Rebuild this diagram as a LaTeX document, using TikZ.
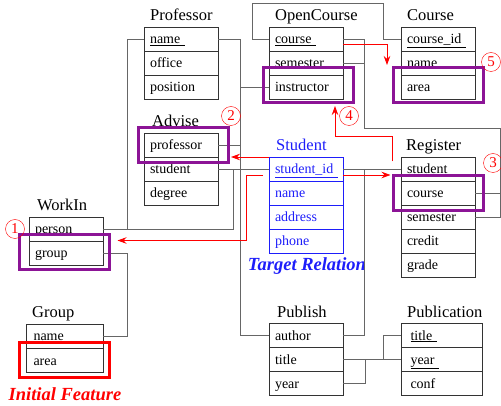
\documentclass[tikz,border=0pt]{standalone}
\usepackage{fontspec}
\setmainfont{Liberation Serif}
\usetikzlibrary{positioning, arrows.meta, calc}

\definecolor{hlpurple}{RGB}{140,20,150}
\definecolor{tblue}{RGB}{30,30,250}

\begin{document}
\begin{tikzpicture}[x=1pt, y=-1pt, >={Stealth[length=9pt, width=6.5pt]},
  attr/.style={draw=black!80, minimum width=74pt, minimum height=24pt, text width=62pt,
    text height=12pt, text depth=2pt, inner sep=0pt, outer sep=0pt, anchor=north west,
    font=\fontsize{14}{16}\selectfont},
  tname/.style={anchor=base west, inner sep=0pt, font=\fontsize{16.5}{18}\selectfont},
  link/.style={draw=black!60, line width=0.9pt},
  hl/.style={draw=hlpurple, line width=3pt, minimum width=90pt, minimum height=35pt, inner sep=0pt},
  redlink/.style={draw=red, line width=0.8pt, ->, shorten >=1.5pt},
  num/.style={circle, draw=red, text=red, minimum size=19pt, inner sep=0pt,
    font=\fontsize{15}{15}\selectfont},
  tag/.style={inner sep=0pt, anchor=base, font=\fontsize{18.5}{20}\selectfont\bfseries\itshape}]
  \useasboundingbox (0,0) rectangle (501,406);
  % --- Professor ---
  \node[attr] (prof1) at (144,27) {\underline{name~}};
  \node[attr, below=0pt of prof1] (prof2) {office};
  \node[attr, below=0pt of prof2] (prof3) {position};
  \node[tname] (prof) at ([xshift=6pt,yshift=6pt]prof1.north west) {Professor};
  % --- OpenCourse ---
  \node[attr] (oc1) at (269,27) {\underline{course~}};
  \node[attr, below=0pt of oc1] (oc2) {semester};
  \node[attr, below=0pt of oc2] (oc3) {instructor};
  \node[tname] (oc) at ([xshift=6pt,yshift=6pt]oc1.north west) {OpenCourse};
  % --- Course ---
  \node[attr] (crs1) at (401,27) {\underline{course\_id~}};
  \node[attr, below=0pt of crs1] (crs2) {name};
  \node[attr, below=0pt of crs2] (crs3) {area};
  \node[tname] (crs) at ([xshift=6pt,yshift=6pt]crs1.north west) {Course};
  % --- Advise ---
  \node[attr] (adv1) at (144,133) {professor};
  \node[attr, below=0pt of adv1] (adv2) {student};
  \node[attr, below=0pt of adv2] (adv3) {degree};
  \node[tname] (adv) at ([xshift=8pt,yshift=6pt]adv1.north west) {Advise};
  % --- Student (target) ---
  \node[attr, draw=tblue, text=tblue] (stu1) at (269,157) {\underline{student\_id~}};
  \node[attr, draw=tblue, text=tblue, below=0pt of stu1] (stu2) {name};
  \node[attr, draw=tblue, text=tblue, below=0pt of stu2] (stu3) {address};
  \node[attr, draw=tblue, text=tblue, below=0pt of stu3] (stu4) {phone};
  \node[tname, text=tblue] (stu) at ([xshift=7pt,yshift=6pt]stu1.north west) {Student};
  \node[tag, text=tblue] (target) at (307,271) {Target Relation};
  % --- Register ---
  \node[attr] (reg1) at (401,157) {student};
  \node[attr, below=0pt of reg1] (reg2) {course};
  \node[attr, below=0pt of reg2] (reg3) {semester};
  \node[attr, below=0pt of reg3] (reg4) {credit};
  \node[attr, below=0pt of reg4] (reg5) {grade};
  \node[tname] (reg) at ([xshift=5pt,yshift=6pt]reg1.north west) {Register};
  % --- WorkIn ---
  \node[attr] (wi1) at (29,217) {person};
  \node[attr, below=0pt of wi1] (wi2) {group};
  \node[tname] (wi) at ([xshift=8pt,yshift=6pt]wi1.north west) {WorkIn};
  % --- Group ---
  \node[attr, minimum width=77pt] (grp1) at (26,324) {name};
  \node[attr, minimum width=77pt, below=0pt of grp1] (grp2) {area};
  \node[tname] (grp) at ([xshift=6pt,yshift=6pt]grp1.north west) {Group};
  \node[tag, text=red] (initial) at (65,400) {Initial Feature};
  % --- Publish ---
  \node[attr] (pub1) at (269,323) {author};
  \node[attr, below=0pt of pub1] (pub2) {title};
  \node[attr, below=0pt of pub2] (pub3) {year};
  \node[tname] (pub) at ([xshift=8pt,yshift=6pt]pub1.north west) {Publish};
  % --- Publication ---
  \node[attr, minimum width=81pt] (pbl1) at (401,323) {\underline{title~}};
  \node[attr, minimum width=81pt, below=0pt of pbl1] (pbl2) {\underline{year~}};
  \node[attr, minimum width=81pt, below=0pt of pbl2] (pbl3) {conf};
  \node[tname] (pbl) at ([xshift=6pt,yshift=6pt]pbl1.north west) {Publication};
  % --- foreign key links ---
  \draw[link] (prof1.east) -- ++(22,0) |- (pub1.west);
  \draw[link] (oc3.west) -- ++(-29,0);
  \draw[link] (adv1.east) -- ++(22,0);
  \draw[link] (prof1.west) -- ++(-17,0) |- (wi1.east);
  \draw[link] (wi1.east) -- ++(130,0) |- (adv2.east);
  \draw[link] (adv2.east) -- (stu1.west);
  \draw[link] (stu1.east) -- (reg1.west);
  \draw[link] (stu1.east) -- ++(21,0) |- (pub1.east);
  \draw[link] (wi2.east) -- ++(24,0) |- (grp1.east);
  \draw[link] (oc1.west) -- ++(-17,0) |- ($(crs1.west)+(-18,-36)$) |- (crs1.west);
  \coordinate (regbus) at ($(reg2.east)+(25,-65)$);
  \draw[link] (oc1.east) -- ++(21,0) |- (regbus) |- (reg2.east);
  \draw[link] (oc2.east) -- ++(21,0);
  \draw[link] (reg3.east) -| (regbus);
  \draw[link] (pub2.east) -- (pbl2.west);
  \draw[link] (pub3.east) -- ++(22,0) |- (pub2.east);
  \draw[link] (pbl1.west) -- ++(-18,0) |- (pbl2.west);
  % --- highlighted attributes ---
  \node[hl] (box4) at (308,85.5) {};
  \node[hl] (box5) at (438.5,85.5) {};
  \node[hl] (box3) at (438.5,193.5) {};
  \node[hl] (box2) at (183,145.5) {};
  \node[hl] (box1) at (64.5,252.5) {};
  \node[hl, draw=red] (box0) at (64,359.5) {};
  % --- search steps ---
  \draw[redlink] (stu1.north west) -- (stu1.north west -| box2.east);
  \draw[redlink] ([yshift=-6pt]stu1.east) -- ([yshift=-6pt]stu1.east -| box3.west);
  \draw[redlink] ([xshift=-6pt,yshift=-6pt]stu1.west) -- ++(-17,0) |- ([xshift=5pt,yshift=12pt]box1.east);
  \draw[redlink] ([yshift=13pt]box3.north west) -- ++(0,-25) -| ([xshift=27pt]box4.south);
  \draw[redlink] ([yshift=-5pt]oc1.east) -| ([xshift=-5pt]box5.north west);
  \node[num] (n1) at (15,229) {1};
  \node[num] (n2) at (231,116) {2};
  \node[num] (n3) at (493,163) {3};
  \node[num] (n4) at (349,116) {4};
  \node[num] (n5) at (491,62) {5};
\end{tikzpicture}
\end{document}
